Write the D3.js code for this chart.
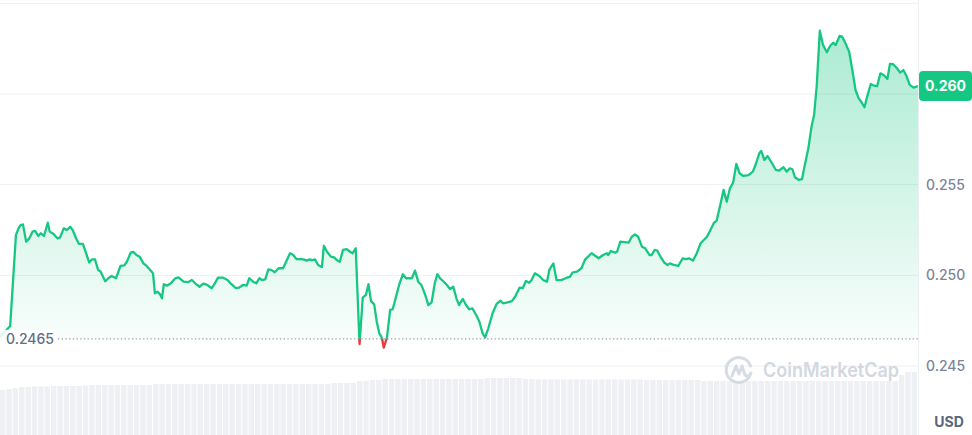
<!DOCTYPE html>
<html>
<head>
<meta charset="utf-8">
<script src="https://cdn.jsdelivr.net/npm/d3@7/dist/d3.min.js"></script>
<style>
  html, body { margin: 0; padding: 0; background: #fff; }
  svg { display: block; font-family: Inter, "Noto Sans", sans-serif; }
</style>
</head>
<body>
<svg id="chart" width="972" height="435"></svg>
<script>
// ---- DATA ----
// minutes since start of the 24h window
const times = [0,16,25,29,32,36,41,46,51,55,60,64,69,75,78,84,90,94,100,105,110,114,120,124,130,135,140,144,149,154,158,165,170,175,182,189,195,199,205,209,214,219,225,230,238,240,243,247,251,254,257,262,268,275,280,288,295,301,306,313,319,325,332,337,342,350,357,363,370,375,381,387,391,397,402,407,411,416,421,426,431,437,444,455,460,465,476,481,486,489,494,499,505,508,513,519,524,528,533,538,544,549,553,558,564,569,574,578,582,587,591,595,599,602,607,612,616,622,626,632,637,646,651,656,661,667,672,677,682,686,691,695,701,706,711,716,720,726,731,736,741,747,752,757,761,766,773,779,785,789,796,803,808,815,820,825,830,834,839,846,852,858,862,868,873,881,889,894,898,905,912,918,928,939,946,952,954,958,965,968,973,986,991,996,1001,1007,1012,1019,1022,1027,1031,1036,1042,1047,1051,1057,1064,1071,1076,1081,1087,1093,1099,1109,1115,1120,1124,1131,1135,1140,1145,1150,1155,1160,1166,1174,1181,1186,1191,1194,1199,1204,1211,1217,1222,1229,1234,1239,1243,1247,1253,1258,1263,1268,1273,1277,1281,1286,1291,1297,1302,1307,1311,1317,1321,1325,1332,1337,1342,1347,1352,1356,1361,1366,1371,1376,1381,1386,1392,1396,1401,1407,1412,1417,1422,1427,1433,1440];
const prices = [0.24660,0.24721,0.25222,0.25259,0.25276,0.25281,0.25186,0.25204,0.25241,0.25245,0.25217,0.25232,0.25217,0.25290,0.25241,0.25228,0.25204,0.25208,0.25259,0.25250,0.25268,0.25250,0.25199,0.25173,0.25173,0.25122,0.25070,0.25088,0.25088,0.25029,0.25020,0.24967,0.24984,0.24996,0.24984,0.25052,0.25055,0.25075,0.25125,0.25130,0.25112,0.25103,0.25066,0.25052,0.25020,0.25011,0.24901,0.24910,0.24895,0.24873,0.24951,0.24943,0.24956,0.24984,0.24989,0.24965,0.24962,0.24974,0.24956,0.24937,0.24954,0.24947,0.24929,0.24956,0.24987,0.24987,0.24974,0.24951,0.24929,0.24932,0.24947,0.24943,0.24984,0.24965,0.24956,0.24984,0.24974,0.24978,0.25033,0.25029,0.25017,0.25039,0.25039,0.25122,0.25112,0.25090,0.25088,0.25081,0.25088,0.25083,0.25088,0.25057,0.25046,0.25163,0.25130,0.25103,0.25099,0.25085,0.25075,0.25140,0.25144,0.25130,0.25122,0.25149,0.24621,0.24877,0.24892,0.24951,0.24858,0.24840,0.24744,0.24680,0.24656,0.24601,0.24656,0.24809,0.24813,0.24892,0.24947,0.25006,0.24984,0.24984,0.25026,0.24965,0.24947,0.24892,0.24836,0.24851,0.24956,0.25006,0.24980,0.24969,0.24947,0.24925,0.24937,0.24873,0.24836,0.24870,0.24836,0.24813,0.24818,0.24781,0.24744,0.24680,0.24658,0.24708,0.24794,0.24842,0.24860,0.24846,0.24851,0.24858,0.24882,0.24932,0.24929,0.24969,0.24959,0.24974,0.25011,0.24996,0.24974,0.24965,0.25033,0.25066,0.24974,0.24974,0.24987,0.24992,0.25015,0.25020,0.25039,0.25088,0.25122,0.25094,0.25112,0.25122,0.25112,0.25134,0.25125,0.25130,0.25186,0.25180,0.25213,0.25226,0.25213,0.25158,0.25149,0.25112,0.25112,0.25140,0.25136,0.25103,0.25070,0.25057,0.25066,0.25057,0.25052,0.25094,0.25090,0.25094,0.25081,0.25122,0.25177,0.25213,0.25254,0.25290,0.25300,0.25406,0.25471,0.25406,0.25480,0.25511,0.25614,0.25563,0.25548,0.25553,0.25572,0.25618,0.25673,0.25686,0.25636,0.25658,0.25618,0.25581,0.25577,0.25596,0.25572,0.25590,0.25585,0.25541,0.25526,0.25530,0.25618,0.25701,0.25820,0.25884,0.26040,0.26349,0.26270,0.26230,0.26265,0.26283,0.26270,0.26320,0.26316,0.26289,0.26233,0.26132,0.26022,0.25976,0.25952,0.25927,0.25995,0.26055,0.26046,0.26044,0.26114,0.26105,0.26083,0.26166,0.26164,0.26142,0.26118,0.26132,0.26099,0.26050,0.26035,0.26044];
// volume per 10-minute bar (arbitrary units, scale offset)
const volumes = [45,46,47,48,48,48.5,48.5,48.5,49,49,49,49,49,49.5,50,50,50,50,50,50,50,50,50,50,51,51,51,51,51,51,51,51,51,51,51,51,51,51,51,51,51,51,51,51,51,51,51,51,51,51,51,51,52,52,52,52,54,54,55,55,56,56,56,56,56,56,56,56,56,56,56,56,56,56,56,56,57,57,57,57,57,57,56,56,55.5,55.5,55.5,55.5,55.5,55.5,55.5,55.5,55.5,55.5,55.5,55.5,55.5,55.5,55.5,55.5,55.5,55,55,55,55,55,55,55,55,55,54,54,54,54,54,54,54,54,54,54,54,54,54,54,54,54,54,54,54,54,54,54,54,54,54,54,54,54,54,54,54,60,63,63];
const gridTicks = [0.245, 0.250, 0.255, 0.260, 0.265];
const axisLabels = [0.245, 0.250, 0.255];
const openPrice = 0.2465;
const lastPrice = 0.260;
const currency = "USD";

// ---- CHART ----
const svg = d3.select("#chart");
const W = 918;
const x = d3.scaleLinear().domain([0, 1440]).range([0, W]);
const y = d3.scaleLinear().domain([0.245, 0.260]).range([366, 94]);
const yVol = d3.scaleLinear().domain([0, 60]).range([435, 375]);

const GREEN = "#16c784", RED = "#ea3943";
const data = times.map((t, i) => ({ t, p: prices[i] }));

const defs = svg.append("defs");
const grad = defs.append("linearGradient").attr("id", "gfill")
  .attr("gradientUnits", "userSpaceOnUse").attr("x1", 0).attr("x2", 0)
  .attr("y1", y(0.2635)).attr("y2", y(openPrice));
grad.append("stop").attr("offset", 0).attr("stop-color", GREEN).attr("stop-opacity", 0.36);
grad.append("stop").attr("offset", 1).attr("stop-color", GREEN).attr("stop-opacity", 0.03);
defs.append("clipPath").attr("id", "above").append("rect")
  .attr("x", 0).attr("y", 0).attr("width", W).attr("height", y(openPrice));
defs.append("clipPath").attr("id", "below").append("rect")
  .attr("x", 0).attr("y", y(openPrice)).attr("width", W).attr("height", 100);

// volume bars
const bw = W / volumes.length;
svg.append("g").selectAll("rect").data(volumes).join("rect")
  .attr("x", (d, i) => i * bw)
  .attr("y", d => yVol(d))
  .attr("width", bw - 1)
  .attr("height", d => 435 - yVol(d))
  .attr("fill", "#eef0f4");

// grid
svg.append("g").selectAll("line").data(gridTicks).join("line")
  .attr("x1", 0).attr("x2", W)
  .attr("y1", d => y(d)).attr("y2", d => y(d))
  .attr("stroke", "#eceff3").attr("stroke-width", 1);
svg.append("line").attr("x1", W + 0.5).attr("x2", W + 0.5).attr("y1", 0).attr("y2", 435)
  .attr("stroke", "#eceff3");

// watermark
const wm = svg.append("g").attr("transform", "translate(739,370)").attr("opacity", 0.9);
wm.append("path")
  .attr("d", "M 11.5 -4 A 12.5 12.5 0 1 0 11.5 4")
  .attr("fill", "none").attr("stroke", "#d3d8e0").attr("stroke-width", 3).attr("stroke-linecap", "round");
wm.append("path")
  .attr("d", "M -7 6 L -3 -4 L 0 4 L 3 -4 L 6 5 Q 9 8 12 3")
  .attr("fill", "none").attr("stroke", "#d3d8e0").attr("stroke-width", 3)
  .attr("stroke-linejoin", "round").attr("stroke-linecap", "round");
svg.append("text").attr("x", 763).attr("y", 377).text("CoinMarketCap")
  .attr("font-size", 20).attr("font-weight", 600).attr("fill", "#d3d8e0")
  .attr("textLength", 136).attr("lengthAdjust", "spacingAndGlyphs");

// area
const area = d3.area().x(d => x(d.t)).y0(y(openPrice)).y1(d => y(d.p));
svg.append("path").datum(data).attr("d", area).attr("fill", "url(#gfill)").attr("clip-path", "url(#above)");
svg.append("path").datum(data).attr("d", area).attr("fill", RED).attr("opacity", 0.12).attr("clip-path", "url(#below)");

// baseline (open price)
svg.append("line").attr("x1", 58).attr("x2", W).attr("y1", y(openPrice)).attr("y2", y(openPrice))
  .attr("stroke", "#9aa3b4").attr("stroke-width", 1.2).attr("stroke-dasharray", "1.3,2.4");

// line
const line = d3.line().x(d => x(d.t)).y(d => y(d.p));
svg.append("path").datum(data).attr("d", line).attr("fill", "none").attr("stroke", GREEN)
  .attr("stroke-width", 2.3).attr("stroke-linejoin", "round").attr("clip-path", "url(#above)");
svg.append("path").datum(data).attr("d", line).attr("fill", "none").attr("stroke", RED)
  .attr("stroke-width", 2.3).attr("stroke-linejoin", "round").attr("clip-path", "url(#below)");

// open price label
svg.append("rect").attr("x", 0).attr("y", y(openPrice) - 9).attr("width", 56).attr("height", 18)
  .attr("fill", "#fff").attr("opacity", 0.85);
svg.append("text").attr("x", 6).attr("y", y(openPrice)).attr("dy", "0.35em")
  .text(d3.format(".4f")(openPrice))
  .attr("font-size", 14).attr("font-weight", 500).attr("fill", "#616e85");

// right axis
const axis = d3.axisRight(y).tickValues(axisLabels).tickFormat(d3.format(".3f")).tickSize(0).tickPadding(0);
const ag = svg.append("g").attr("transform", "translate(926,0)").call(axis);
ag.select(".domain").remove();
ag.selectAll("text").attr("font-size", 14).attr("font-weight", 500).attr("fill", "#7d8599")
  .attr("font-family", "Inter, 'Noto Sans', sans-serif");

// last price badge
const by = y(lastPrice) - 8;
svg.append("rect").attr("x", 919).attr("y", by - 15).attr("width", 53).attr("height", 30).attr("rx", 4)
  .attr("fill", GREEN);
svg.append("text").attr("x", 945.5).attr("y", by).attr("dy", "0.35em").attr("text-anchor", "middle")
  .text(d3.format(".3f")(lastPrice)).attr("font-size", 14).attr("font-weight", 700).attr("fill", "#fff");

svg.append("text").attr("x", 949).attr("y", 422).attr("dy", "0.35em").attr("text-anchor", "middle")
  .text(currency).attr("font-size", 14).attr("font-weight", 700).attr("fill", "#58667e");
</script>
</body>
</html>
